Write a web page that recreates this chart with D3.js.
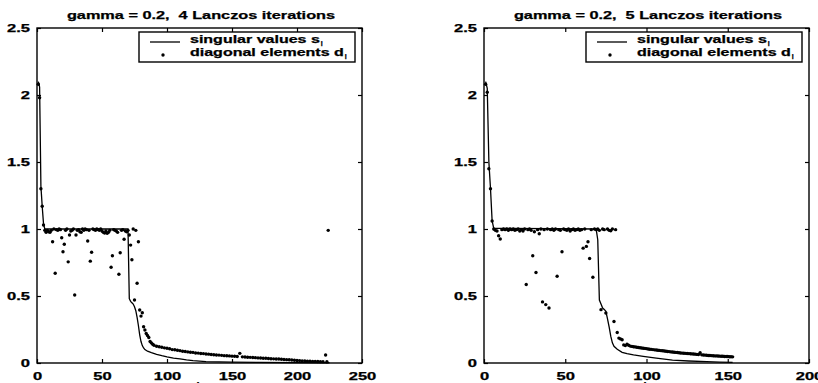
<!DOCTYPE html>
<html>
<head>
<meta charset="utf-8">
<script src="https://cdn.jsdelivr.net/npm/d3@7"></script>
<style>
body { margin: 0; background: #fff; }
text { font-family: 'Liberation Sans', Arial, sans-serif; font-weight: bold; fill: #000; stroke: #000; stroke-width: 0.25px; }
</style>
</head>
<body>
<svg id="chart" width="818" height="383"></svg>
<script>
// titles and legend labels
const titles = ['gamma = 0.2,  4 Lanczos iterations', 'gamma = 0.2,  5 Lanczos iterations']
const legendLabels = [['singular values s', 'i'], ['diagonal elements d', 'i']]
const xLabel = 'i'

// tick values
const xTicksLeft = [0, 50, 100, 150, 200, 250]
const xTicksRight = [0, 50, 100, 150, 200]
const yTicks = [0, 0.5, 1, 1.5, 2, 2.5]

// singular values s_i, [i, value], 4 iterations
const leftSingular = [
    [1, 2.1], [2, 2.06], [3, 1.32], [4, 1.17], [5, 1.04], [6, 1.0], [70, 1.0],
    [71, 0.48], [72, 0.46], [73, 0.45], [74, 0.44], [75, 0.42], [76, 0.39],
    [77, 0.34], [78, 0.28], [79, 0.21], [80, 0.16], [81, 0.13], [82, 0.112],
    [83, 0.1], [85, 0.088], [88, 0.077], [92, 0.065], [96, 0.055], [100, 0.046],
    [105, 0.037], [110, 0.03], [115, 0.023], [120, 0.018], [130, 0.011],
    [140, 0.008], [150, 0.006], [170, 0.004], [200, 0.003], [225, 0.002]
]

// diagonal elements d_i, [i, value], 4 iterations
const leftDiagonal = [
    [1, 2.08], [2, 1.98], [3, 1.3], [4, 1.17], [5, 1.03], [6, 0.99], [7, 0.975],
    [8, 0.99], [9, 0.98], [10, 0.975], [11, 0.99], [12, 0.905], [13, 1.0],
    [14, 0.67], [15, 0.995], [16, 0.99], [17, 1.0], [18, 0.995], [19, 0.935],
    [20, 0.83], [21, 0.886], [22, 0.99], [23, 1.0], [24, 0.755], [25, 0.955],
    [26, 0.985], [27, 0.99], [28, 1.0], [29, 0.507], [30, 0.955], [31, 0.99],
    [32, 0.995], [33, 0.98], [34, 0.975], [35, 1.0], [36, 0.99], [37, 1.0],
    [38, 0.995], [39, 0.91], [40, 0.99], [41, 0.76], [42, 0.826], [43, 1.0],
    [44, 0.995], [45, 0.99], [46, 1.0], [47, 0.995], [48, 0.99], [49, 1.0],
    [50, 0.985], [51, 0.975], [52, 0.97], [53, 0.985], [54, 0.968], [55, 0.975],
    [56, 0.99], [57, 0.714], [58, 0.8], [59, 0.995], [60, 0.99], [61, 0.985],
    [62, 0.975], [63, 0.662], [64, 0.823], [65, 0.99], [66, 0.995], [67, 0.923],
    [68, 0.985], [69, 0.98], [70, 0.99], [71, 0.955], [72, 0.88], [73, 0.77],
    [74, 1.0], [75, 0.47], [76, 0.99], [77, 0.595], [78, 0.905], [79, 0.395],
    [80, 0.35], [81, 0.375], [82, 0.27], [83, 0.246], [84, 0.22], [85, 0.205],
    [86, 0.19], [87, 0.16], [88, 0.15], [89, 0.14], [90, 0.132], [92, 0.125],
    [94, 0.121], [96, 0.118], [98, 0.113], [100, 0.11], [102, 0.106], [104, 0.1],
    [106, 0.099], [108, 0.095], [110, 0.092], [112, 0.088], [114, 0.086],
    [116, 0.083], [118, 0.08], [120, 0.079], [122, 0.075], [124, 0.074],
    [126, 0.071], [128, 0.07], [130, 0.067], [132, 0.066], [134, 0.063],
    [136, 0.062], [138, 0.06], [140, 0.059], [142, 0.057], [144, 0.055],
    [146, 0.054], [148, 0.053], [150, 0.051], [152, 0.05], [154, 0.048],
    [156, 0.072], [158, 0.046], [160, 0.045], [162, 0.043], [164, 0.042],
    [166, 0.041], [168, 0.04], [170, 0.038], [172, 0.037], [174, 0.036],
    [176, 0.035], [178, 0.034], [180, 0.032], [182, 0.031], [184, 0.03],
    [186, 0.03], [188, 0.028], [190, 0.026], [192, 0.025], [194, 0.024],
    [196, 0.022], [198, 0.021], [200, 0.019], [202, 0.018], [204, 0.016],
    [206, 0.015], [208, 0.014], [210, 0.013], [212, 0.012], [214, 0.012],
    [216, 0.011], [218, 0.01], [220, 0.01], [222, 0.06], [223, 0.009], [224, 0.99]
]

// singular values s_i, [i, value], 5 iterations
const rightSingular = [
    [1, 2.1], [2, 2.05], [3, 1.5], [4, 1.3], [5, 1.06], [6, 1.005], [69, 1.0],
    [70, 0.92], [71, 0.47], [72, 0.44], [73, 0.41], [74, 0.4], [75, 0.385],
    [76, 0.33], [77, 0.27], [78, 0.2], [79, 0.15], [80, 0.125], [82, 0.102],
    [85, 0.08], [88, 0.07], [92, 0.06], [98, 0.049], [106, 0.036], [116, 0.022],
    [126, 0.015], [137, 0.01], [145, 0.006], [153, 0.004]
]

// diagonal elements d_i, [i, value], 5 iterations
const rightDiagonal = [
    [1, 2.08], [2, 2.02], [3, 1.45], [4, 1.3], [5, 1.06], [6, 1.0], [7, 0.99],
    [8, 0.985], [9, 0.95], [10, 0.925], [11, 0.995], [12, 1.0], [13, 0.995],
    [14, 1.0], [15, 0.99], [16, 1.0], [17, 0.995], [18, 1.0], [19, 0.99],
    [20, 0.995], [21, 1.0], [22, 0.985], [23, 0.995], [24, 0.985], [25, 1.0],
    [26, 0.586], [27, 0.995], [28, 1.0], [29, 0.99], [30, 0.8], [31, 0.98],
    [32, 0.675], [33, 0.995], [34, 0.965], [35, 1.0], [36, 0.456], [37, 0.995],
    [38, 0.436], [39, 1.0], [40, 0.41], [41, 0.995], [42, 1.0], [43, 0.99],
    [44, 1.0], [45, 0.647], [46, 0.995], [47, 0.99], [48, 0.83], [49, 1.0],
    [50, 0.995], [51, 0.99], [52, 1.0], [53, 0.985], [54, 0.995], [55, 1.0],
    [56, 0.99], [57, 0.995], [58, 1.0], [59, 0.99], [60, 0.995], [61, 0.857],
    [62, 1.0], [63, 0.87], [64, 0.905], [65, 0.78], [66, 0.995], [67, 0.64],
    [68, 1.0], [69, 0.995], [70, 1.0], [71, 0.99], [72, 0.398], [73, 1.0],
    [74, 0.995], [75, 0.373], [76, 1.0], [77, 0.99], [78, 0.987], [79, 1.0],
    [80, 0.31], [81, 0.995], [82, 0.228], [83, 0.186], [84, 0.18], [85, 0.173],
    [86, 0.135], [87, 0.13], [88, 0.14], [89, 0.132], [90, 0.126], [91, 0.124],
    [92, 0.121], [93, 0.12], [94, 0.118], [95, 0.116], [96, 0.114], [97, 0.112],
    [98, 0.11], [99, 0.109], [100, 0.107], [101, 0.105], [102, 0.103],
    [103, 0.102], [104, 0.1], [105, 0.098], [106, 0.097], [107, 0.095],
    [108, 0.094], [109, 0.092], [110, 0.091], [111, 0.089], [112, 0.088],
    [113, 0.086], [114, 0.085], [115, 0.083], [116, 0.082], [117, 0.08],
    [118, 0.079], [119, 0.078], [120, 0.077], [121, 0.075], [122, 0.074],
    [123, 0.073], [124, 0.072], [125, 0.071], [126, 0.07], [127, 0.069],
    [128, 0.068], [129, 0.067], [130, 0.066], [131, 0.064], [132, 0.063],
    [133, 0.077], [134, 0.061], [135, 0.06], [136, 0.059], [137, 0.058],
    [138, 0.056], [139, 0.056], [140, 0.055], [141, 0.054], [142, 0.053],
    [143, 0.053], [144, 0.052], [145, 0.051], [146, 0.05], [147, 0.05],
    [148, 0.049], [149, 0.048], [150, 0.048], [151, 0.047], [152, 0.047],
    [153, 0.046]
]

const svg = d3.select('#chart')

// the scanned font is very wide, stretch text horizontally
function widen(sel, factor) {
    sel.each(function () {
        const w = this.getComputedTextLength()
        d3.select(this)
            .attr('textLength', w * factor)
            .attr('lengthAdjust', 'spacingAndGlyphs')
    })
}

function drawPanel(p) {
    const x = d3.scaleLinear().domain(p.xDomain).range([p.left, p.left + 325])
    const y = d3.scaleLinear().domain([0, 2.5]).range([363, 28])
    const g = svg.append('g')

    // bottom axis with inward ticks
    g.append('g')
        .attr('transform', 'translate(0,363)')
        .call(d3.axisBottom(x).tickValues(p.xTicks).tickSizeInner(-4).tickSizeOuter(0).tickPadding(10))
        .call((a) => a.select('.domain').remove())
        .call((a) => a.selectAll('text').style('font-size', '10px').attr('font-family', null))
        .call((a) => widen(a.selectAll('text'), 1.65))

    // top axis, ticks only
    g.append('g')
        .attr('transform', 'translate(0,28)')
        .call(d3.axisTop(x).tickValues(p.xTicks).tickSizeInner(-4).tickSizeOuter(0).tickFormat(''))
        .call((a) => a.select('.domain').remove())

    // left axis
    g.append('g')
        .attr('transform', `translate(${p.left},0)`)
        .call(d3.axisLeft(y).tickValues(yTicks).tickSizeInner(-4).tickSizeOuter(0).tickPadding(7).tickFormat((d) => d))
        .call((a) => a.select('.domain').remove())
        .call((a) => a.selectAll('text').style('font-size', '10px').attr('font-family', null))
        .call((a) => widen(a.selectAll('text'), 1.65))

    // right axis, ticks only
    g.append('g')
        .attr('transform', `translate(${p.left + 325},0)`)
        .call(d3.axisRight(y).tickValues(yTicks).tickSizeInner(-4).tickSizeOuter(0).tickFormat(''))
        .call((a) => a.select('.domain').remove())

    g.selectAll('.tick line').attr('stroke', '#000').attr('stroke-width', 1.2)

    // frame
    g.append('rect')
        .attr('x', p.left)
        .attr('y', 28)
        .attr('width', 325)
        .attr('height', 335)
        .attr('fill', 'none')
        .attr('stroke', '#000')
        .attr('stroke-width', 1.4)

    // singular values line
    const line = d3.line().x((d) => x(d[0])).y((d) => y(d[1]))
    g.append('path')
        .datum(p.singular)
        .attr('fill', 'none')
        .attr('stroke', '#000')
        .attr('stroke-width', 1.3)
        .attr('d', line)

    // diagonal elements dots
    g.append('g')
        .selectAll('circle')
        .data(p.diagonal)
        .join('circle')
        .attr('cx', (d) => x(d[0]))
        .attr('cy', (d) => y(d[1]))
        .attr('r', 1.7)
        .attr('fill', '#000')

    // title
    g.append('text')
        .attr('x', p.left + 164)
        .attr('y', 18.5)
        .attr('text-anchor', 'middle')
        .style('font-size', '10.5px')
        .style('white-space', 'pre')
        .text(p.title)
        .call((t) => widen(t, 1.55))

    // x label, mostly cut off at the bottom
    g.append('text')
        .attr('x', p.left + 161)
        .attr('y', 390)
        .attr('text-anchor', 'middle')
        .style('font-size', '11px')
        .text(xLabel)

    // legend
    const lx = p.left + 102
    const lg = g.append('g')
    lg.append('rect')
        .attr('x', lx)
        .attr('y', 32)
        .attr('width', 216)
        .attr('height', 30)
        .attr('fill', '#fff')
        .attr('stroke', '#000')
        .attr('stroke-width', 1.4)
    lg.append('line')
        .attr('x1', lx + 11)
        .attr('x2', lx + 41)
        .attr('y1', 42)
        .attr('y2', 42)
        .attr('stroke', '#000')
        .attr('stroke-width', 1.3)
    lg.append('circle')
        .attr('cx', lx + 24)
        .attr('cy', 55)
        .attr('r', 1.7)
        .attr('fill', '#000')
    legendLabels.forEach(([label, sub], k) => {
        const t = lg.append('text')
            .attr('x', lx + 51)
            .attr('y', 43 + k * 12.5)
            .style('font-size', '10px')
            .text(label)
        widen(t, 1.6)
        const end = lx + 51 + +t.attr('textLength')
        lg.append('text')
            .attr('x', end + 1)
            .attr('y', 46 + k * 12.5)
            .style('font-size', '7px')
            .text(sub)
    })
}

drawPanel({ left: 37, xDomain: [0, 250], xTicks: xTicksLeft, singular: leftSingular, diagonal: leftDiagonal, title: titles[0] })
drawPanel({ left: 484, xDomain: [0, 200], xTicks: xTicksRight, singular: rightSingular, diagonal: rightDiagonal, title: titles[1] })
</script>
</body>
</html>
